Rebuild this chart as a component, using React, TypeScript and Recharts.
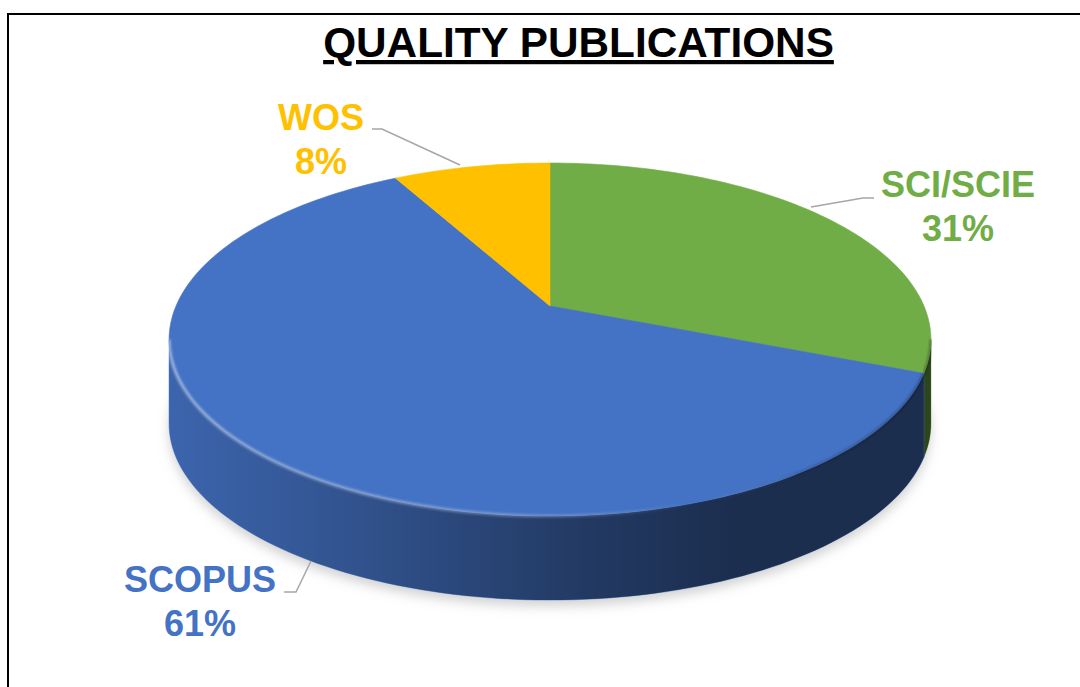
import { PieChart, Pie } from "recharts"

const categories = ["SCI/SCIE", "SCOPUS", "WOS"]
const shares = [31, 61, 8]
const colors = ["#70AD47", "#4472C4", "#FFC000"]

const data = categories.map((name, i) => ({ name, value: shares[i] }))

const W = 1080
const H = 687
const CX = 550
const CY = 306
const R = 374
const TILT = 0.455 // squash of the top face
const PERSP = 0.19 // far edge drawn smaller than near edge
const DEPTH = 84
const RAD = Math.PI / 180
const FONT = "'Liberation Sans', Arial, sans-serif"

// label placement relative to the pie centre: text, line start, elbow, line end
const labelLayout: Record<string, { text: number[]; start: number[]; elbow: number[]; end: number[] }> = {
  "SCI/SCIE": { text: [408, -109], start: [324, -108], elbow: [313, -108], end: [261, -99] },
  SCOPUS: { text: [-350, 286], start: [-266, 286], elbow: [-254, 286], end: [-239, 255] },
  WOS: { text: [-229, -176], start: [-178, -177], elbow: [-168, -177], end: [-90, -141] },
}

function project(cx: number, cy: number, r: number, angle: number) {
  const u = Math.cos(angle * RAD)
  const v = Math.sin(angle * RAD)
  const w = 1 + PERSP * v
  return [cx + (r * u) / w, cy - (r * TILT * v) / w]
}

function arc(cx: number, cy: number, r: number, a0: number, a1: number, dy = 0) {
  const n = Math.max(2, Math.ceil(Math.abs(a1 - a0) / 1.5))
  const pts: string[] = []
  for (let i = 0; i <= n; i++) {
    const [x, y] = project(cx, cy, r, a0 + ((a1 - a0) * i) / n)
    pts.push(`${x.toFixed(2)},${(y + dy).toFixed(2)}`)
  }
  return pts
}

const SIL = Math.asin(PERSP) / RAD
const FRONT_LO = -180 + SIL
const FRONT_HI = -SIL

function frontPart(a: number, b: number) {
  const lo = Math.min(a, b)
  const hi = Math.max(a, b)
  for (const shift of [-360, 0, 360]) {
    const s = Math.max(lo, FRONT_LO + shift)
    const e = Math.min(hi, FRONT_HI + shift)
    if (e > s) return [e, s]
  }
  return null
}

function renderSlice(props: any) {
  const { cx, cy, outerRadius, startAngle, endAngle, percent, index, name } = props
  const color = colors[index]
  const top = arc(cx, cy, outerRadius, startAngle, endAngle)
  const face = `M${cx},${cy} L${top.join(" L")} Z`
  const front = frontPart(startAngle, endAngle)
  let side: string | null = null
  let rim: string | null = null
  if (front) {
    const upper = arc(cx, cy, outerRadius, front[0], front[1])
    const lower = arc(cx, cy, outerRadius, front[1], front[0], DEPTH)
    side = `M${upper.join(" L")} L${lower.join(" L")} Z`
    rim = `M${upper.join(" L")}`
  }
  let shadow: string | null = null
  if (index === 0) {
    shadow = `M${arc(cx, cy, outerRadius, 0, 360, DEPTH + 6).join(" L")} Z`
  }
  const lay = labelLayout[name]
  const pt = (p: number[]) => `${cx + p[0]},${cy + p[1]}`
  return (
    <g key={`slice-${index}`}>
      {shadow && <path d={shadow} fill="#9a9a9a" fillOpacity={0.45} filter="url(#soft)" />}
      {side && (
        <>
          <path d={side} fill={color} stroke={color} strokeWidth={0.5} />
          <path d={side} fill="url(#sideShade)" />
        </>
      )}
      <path d={face} fill={color} stroke={color} strokeWidth={0.6} />
      {rim && <path d={rim} fill="none" stroke="url(#rimLight)" strokeWidth={3.5} filter="url(#rimBlur)" />}
      {lay && (
        <>
          <polyline
            points={`${pt(lay.start)} ${pt(lay.elbow)} ${pt(lay.end)}`}
            fill="none"
            stroke="#A6A6A6"
            strokeWidth={1.5}
          />
          <text
            x={cx + lay.text[0]}
            y={cy + lay.text[1]}
            textAnchor="middle"
            fill={color}
            fontFamily={FONT}
            fontWeight="bold"
            fontSize={36}
          >
            <tspan x={cx + lay.text[0]}>{name}</tspan>
            <tspan x={cx + lay.text[0]} dy={44}>{`${Math.round(percent * 100)}%`}</tspan>
          </text>
        </>
      )}
    </g>
  )
}

export default function App() {
  return (
    <div style={{ position: "absolute", left: 0, top: 0, width: W, height: H, background: "#fff" }}>
      <svg width={0} height={0} style={{ position: "absolute" }}>
        <defs>
          <linearGradient id="sideShade" gradientUnits="userSpaceOnUse" x1={CX - R} y1={0} x2={CX + R} y2={0}>
            <stop offset="0" stopColor="#000" stopOpacity={0.12} />
            <stop offset="0.3" stopColor="#000" stopOpacity={0.32} />
            <stop offset="0.55" stopColor="#000" stopOpacity={0.5} />
            <stop offset="0.75" stopColor="#000" stopOpacity={0.6} />
            <stop offset="1" stopColor="#000" stopOpacity={0.6} />
          </linearGradient>
          <linearGradient id="rimLight" gradientUnits="userSpaceOnUse" x1={CX - R} y1={0} x2={CX + R} y2={0}>
            <stop offset="0" stopColor="#ffffff" stopOpacity={0.4} />
            <stop offset="0.45" stopColor="#ffffff" stopOpacity={0.25} />
            <stop offset="0.7" stopColor="#ffffff" stopOpacity={0} />
            <stop offset="0.85" stopColor="#000000" stopOpacity={0.15} />
            <stop offset="1" stopColor="#000000" stopOpacity={0.25} />
          </linearGradient>
          <filter id="soft" x="-20%" y="-20%" width="140%" height="140%">
            <feGaussianBlur stdDeviation={6} />
          </filter>
          <filter id="rimBlur" x="-5%" y="-5%" width="110%" height="110%">
            <feGaussianBlur stdDeviation={1} />
          </filter>
        </defs>
      </svg>
      <PieChart width={W} height={H} margin={{ top: 0, right: 0, bottom: 0, left: 0 }}>
        <Pie
          data={data}
          dataKey="value"
          nameKey="name"
          cx={CX}
          cy={CY}
          outerRadius={R}
          startAngle={90}
          endAngle={-270}
          fill="none"
          stroke="none"
          label={renderSlice}
          labelLine={false}
          isAnimationActive={false}
        />
      </PieChart>
      <svg width={W} height={H} style={{ position: "absolute", left: 0, top: 0, pointerEvents: "none" }}>
        <path d={`M8,${H} V14 H${W}`} fill="none" stroke="#000" strokeWidth={2} />
        <text
          x={578.5}
          y={57}
          textAnchor="middle"
          fontFamily={FONT}
          fontWeight="bold"
          fontSize={42.3}
          fill="#000"
          textDecoration="underline"
        >
          QUALITY PUBLICATIONS
        </text>
      </svg>
    </div>
  )
}
